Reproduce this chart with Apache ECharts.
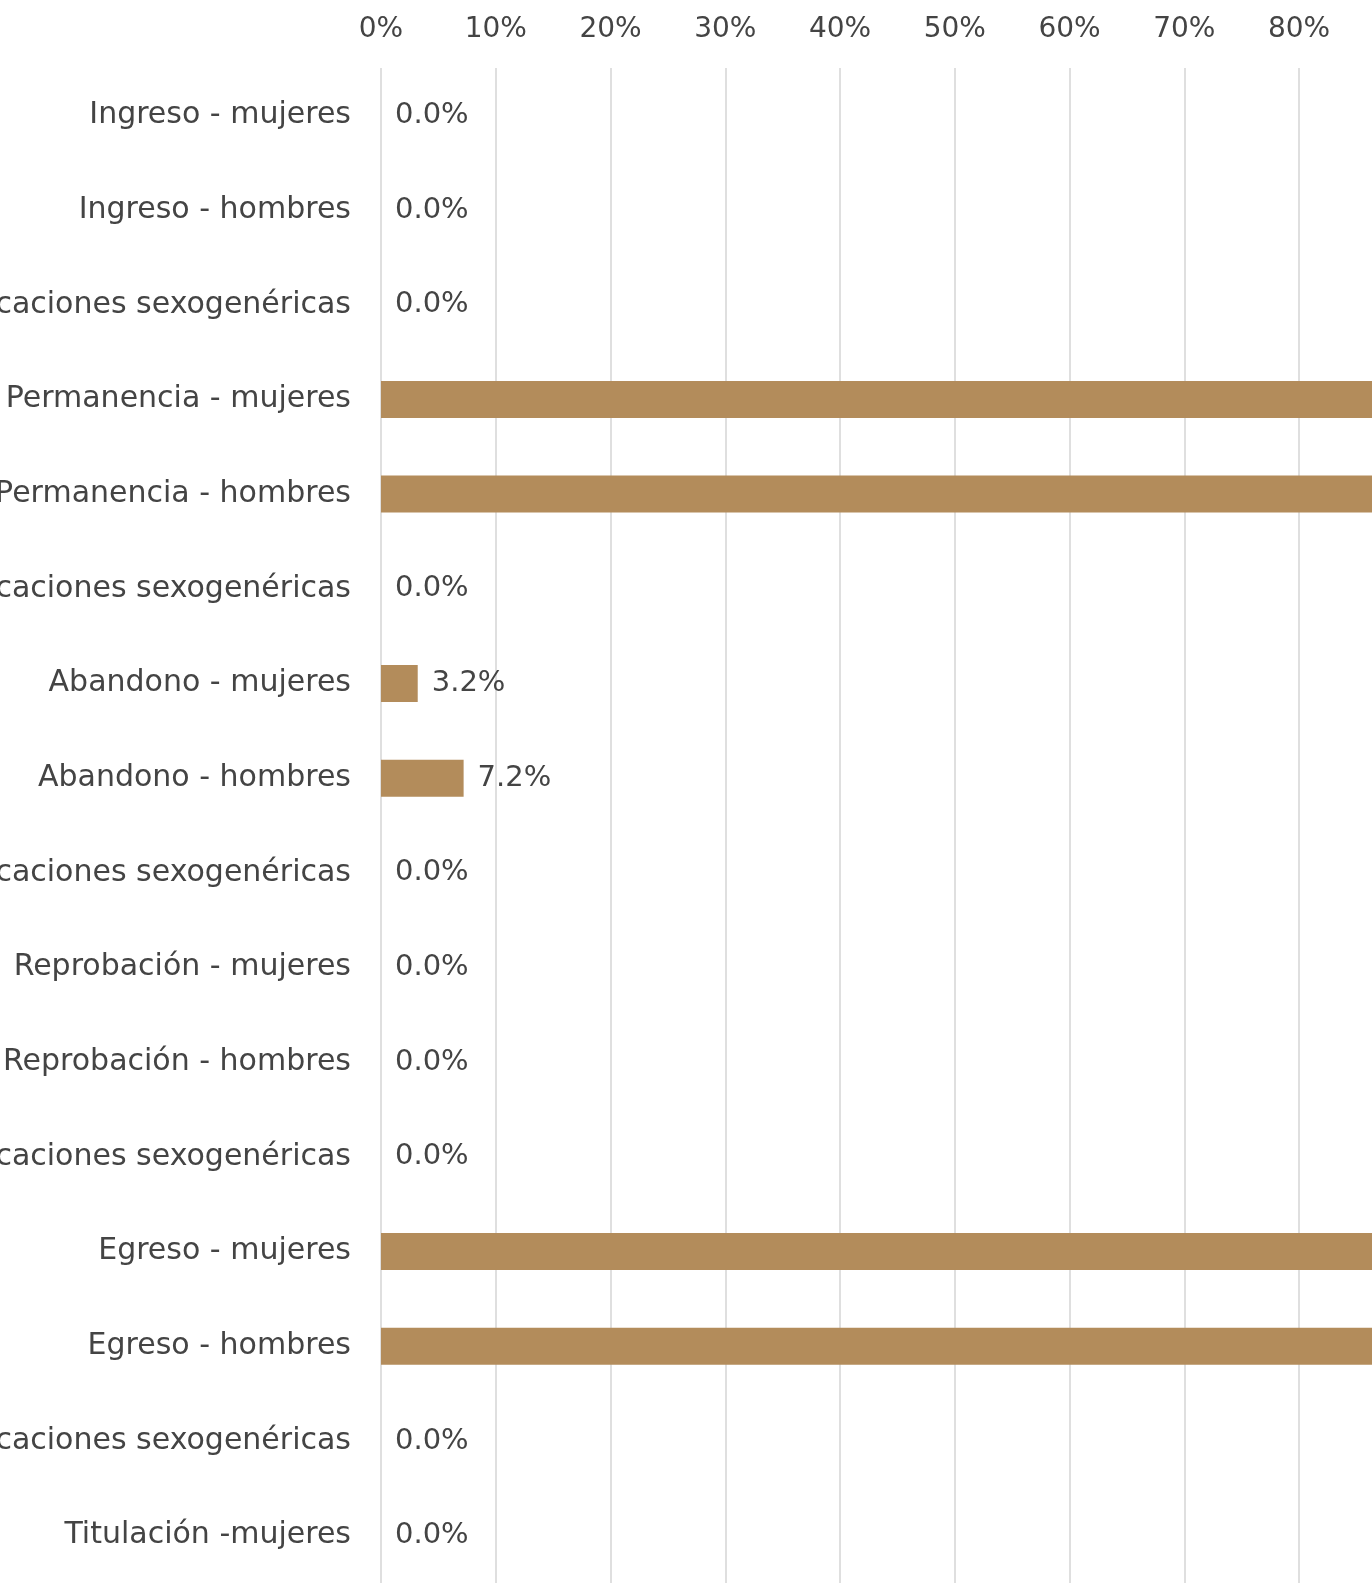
<!DOCTYPE html>
<html>
<head>
<meta charset="utf-8">
<script src="https://cdn.jsdelivr.net/npm/echarts@6/dist/echarts.min.js"></script>
<style>
  html, body { margin: 0; padding: 0; background: #fff; }
  .bar { width: 1372px; height: 1593px; }
</style>
</head>
<body>
<div class="bar"></div>
<script>
// categorías (de arriba hacia abajo)
var categorias = [
  "Ingreso - mujeres",
  "Ingreso - hombres",
  "Ingreso - otras identificaciones sexogenéricas",
  "Permanencia - mujeres",
  "Permanencia - hombres",
  "Permanencia - otras identificaciones sexogenéricas",
  "Abandono - mujeres",
  "Abandono - hombres",
  "Abandono - otras identificaciones sexogenéricas",
  "Reprobación - mujeres",
  "Reprobación - hombres",
  "Reprobación - otras identificaciones sexogenéricas",
  "Egreso - mujeres",
  "Egreso - hombres",
  "Egreso - otras identificaciones sexogenéricas",
  "Titulación -mujeres"
];
// porcentajes
var valores = [0, 0, 0, 96.8, 92.8, 0, 3.2, 7.2, 0, 0, 0, 0, 90.5, 88.6, 0, 0];
var ticks = [0, 10, 20, 30, 40, 50, 60, 70, 80, 90, 100];

(function() {
  var myChart = echarts.init(document.querySelector(".bar"));
  var fuente = "DejaVu Sans";
  var option = {
    animation: false,
    grid: {
      left: 381,
      top: 68,
      width: 1147.5,
      height: 1515,
      containLabel: false,
      outerBoundsMode: "none"
    },
    xAxis: {
      type: "value",
      position: "top",
      min: ticks[0],
      max: ticks[ticks.length - 1],
      interval: 10,
      axisLine: { show: false },
      axisTick: { show: false },
      axisLabel: {
        formatter: "{value}%",
        color: "#444",
        fontFamily: fuente,
        fontSize: 28,
        margin: 24
      },
      splitLine: {
        lineStyle: { color: "#dcdcdc", width: 1.8 }
      }
    },
    yAxis: {
      type: "category",
      inverse: true,
      data: categorias,
      axisLine: { show: false },
      axisTick: { show: false },
      axisLabel: {
        color: "#444",
        fontFamily: fuente,
        fontSize: 30,
        margin: 30,
        padding: [5, 0, 0, 0]
      }
    },
    series: [
      {
        type: "bar",
        barWidth: 37,
        data: valores,
        itemStyle: {
          color: "#b38c5b"
        },
        label: {
          show: true,
          position: "right",
          distance: 14,
          color: "#444",
          fontFamily: fuente,
          fontSize: 29,
          padding: [5, 0, 0, 0],
          formatter: function(p) {
            return p.value.toFixed(1) + "%";
          }
        }
      }
    ]
  };
  myChart.setOption(option);
  window.addEventListener("resize", function() {
    myChart.resize();
  });
})();
</script>
</body>
</html>
